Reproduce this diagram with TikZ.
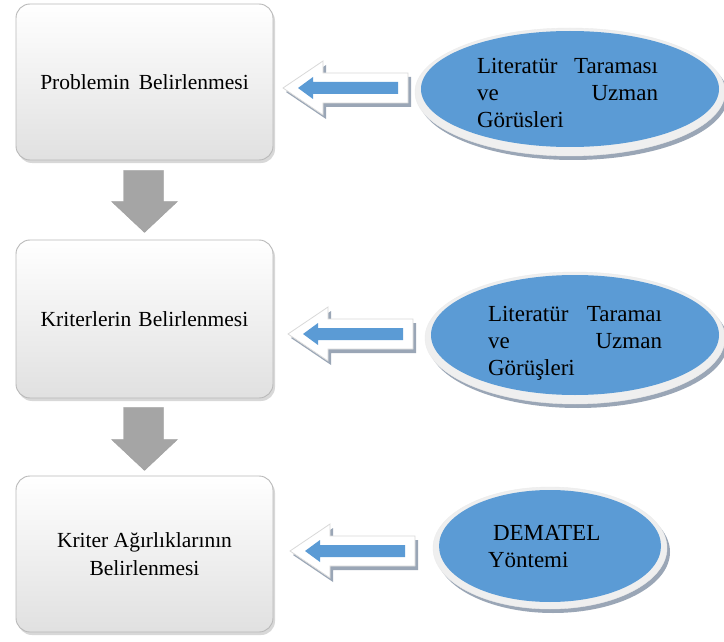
\documentclass[tikz,border=0pt]{standalone}
\usepackage{fontspec}
\setmainfont{Liberation Serif}
\usetikzlibrary{shapes.geometric,calc}
\definecolor{ellblue}{HTML}{5B9BD5}
\definecolor{ringc}{HTML}{EFEFEF}
\definecolor{shadc}{HTML}{9AA6B6}
\definecolor{arrgray}{HTML}{A5A5A5}
\tikzset{
 stepbox/.style={rectangle, rounded corners=14pt, minimum width=257pt, minimum height=156pt,
   draw=gray!55, line width=0.9pt, top color=white, bottom color=gray!24, inner sep=0pt,
   align=center, font=\fontsize{21.5}{28}\selectfont},
 boxshadow/.style={rectangle, rounded corners=14pt, minimum width=257pt, minimum height=156pt,
   fill=gray!60, opacity=0.5, inner sep=0pt},
 ring/.style={ellipse, fill=ringc, draw=gray!15, inner sep=0pt},
 ringshadow/.style={ellipse, fill=shadc, inner sep=0pt},
 core/.style={ellipse, fill=ellblue, inner sep=0pt},
 elltext/.style={font=\fontsize{23}{27}\selectfont, inner sep=0pt, align=left},
 downarrow/.style={fill=arrgray, draw=gray!75, line width=0.4pt},
 hollow/.style={fill=white, draw=gray!30, line width=0.8pt},
 pics/leftarrow/.style={code={
   \fill[shadc] (3,4)--(43,-23)--(43,-11)--(128,-11)--(128,19)--(43,19)--(43,31)--cycle;
   \draw[hollow] (0,0)--(40,-27)--(40,-15)--(125,-15)--(125,15)--(40,15)--(40,27)--cycle;
   \fill[ellblue] (15,0)--(30,-11)--(30,-6)--(115,-6)--(115,6)--(30,6)--(30,11)--cycle;
 }}
}
\begin{document}
\begin{tikzpicture}[x=1pt,y=-1pt]
\useasboundingbox (0,0) rectangle (724,642);
\fill[white] (0,0) rectangle (724,642);

% boxes
\node[boxshadow] at (146.5,85) {};
\node[stepbox] (b1) at (144.5,82) {Problemin\hspace{9pt}Belirlenmesi};
\node[boxshadow, minimum height=158pt] at (146.5,322) {};
\node[stepbox, minimum height=158pt] (b2) at (144.5,319) {Kriterlerin\hspace{7pt}Belirlenmesi};
\node[boxshadow] at (146.5,557) {};
\node[stepbox] (b3) at (144.5,554) {Kriter Ağırlıklarının\\Belirlenmesi};

% down arrows
\draw[downarrow] ($(b1.south)+(-21,10)$) -- ($(b1.south)+(19,10)$) -- ($(b1.south)+(19,41)$)
  -- ($(b1.south)+(33,41)$) -- ($(b1.south)+(0,72)$) -- ($(b1.south)+(-33,41)$)
  -- ($(b1.south)+(-21,41)$) -- cycle;
\draw[downarrow] ($(b2.south)+(-21,9)$) -- ($(b2.south)+(19,9)$) -- ($(b2.south)+(19,41)$)
  -- ($(b2.south)+(33,41)$) -- ($(b2.south)+(0,72)$) -- ($(b2.south)+(-33,41)$)
  -- ($(b2.south)+(-21,41)$) -- cycle;

% ellipses
\node[ringshadow, minimum width=310pt, minimum height=128pt] at (573,96) {};
\node[ring, minimum width=310pt, minimum height=128pt] (e1) at (570,92) {};
\node[core, minimum width=298pt, minimum height=116pt] at (570,89) {};
\node[elltext, text width=181pt] (t1) at (567.5,93) {Literatür\hfill Taraması\\ve\hfill Uzman\\Görüsleri};

\node[ringshadow, minimum width=300pt, minimum height=132pt] at (578,342) {};
\node[ring, minimum width=300pt, minimum height=132pt] (e2) at (575,338) {};
\node[core, minimum width=288pt, minimum height=120pt] at (575,335) {};
\node[elltext, text width=174pt] (t2) at (575,343) {Literatür\hfill Taramaı\\ve\hfill Uzman\\Görüşleri};

\node[ringshadow, minimum width=234pt, minimum height=122pt] at (553,552) {};
\node[ring, minimum width=234pt, minimum height=122pt] (e3) at (550,548) {};
\node[core, minimum width=222pt, minimum height=112pt] at (550,546) {};
\node[elltext, text width=130pt] (t3) at (553,547) {\hspace*{5pt}DEMATEL\\Yöntemi};

% hollow arrows
\pic at (283,88) {leftarrow};
\pic at (288,334) {leftarrow};
\pic at (290,551) {leftarrow};
\end{tikzpicture}
\end{document}
